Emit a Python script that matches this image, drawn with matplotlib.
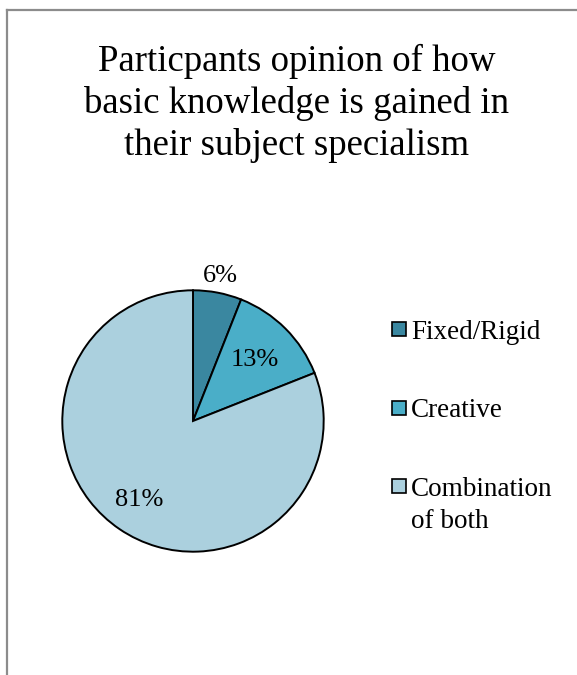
import matplotlib.pyplot as plt
import numpy as np
from matplotlib.lines import Line2D
from matplotlib.patches import Rectangle

categories = ["Fixed/Rigid", "Creative", "Combination\nof both"]
shares = [6, 13, 81]
colors = ["#3a87a0", "#4aaec8", "#abd0de"]
label_radius = [1.13, 0.665, 0.73]

title = "Particpants opinion of how\nbasic knowledge is gained in\ntheir subject specialism"

plt.rcParams['font.family'] = ['Liberation Serif', 'DejaVu Serif']

W, H = 577, 675
fig = plt.figure(figsize=(W / 100, H / 100), dpi=100)

# chart area frame: left and top edges only
fig.add_artist(Line2D([7 / W, 7 / W], [0, 1 - 10 / H], color="#8c8c8c", lw=1.6,
                      transform=fig.transFigure))
fig.add_artist(Line2D([7 / W, 1], [1 - 10 / H, 1 - 10 / H], color="#8c8c8c", lw=1.6,
                      transform=fig.transFigure))

fig.text(297 / W, 1 - 44 / H, title, ha="center", va="top", fontsize=26.5,
         linespacing=1.25)

cx, cy, r = 193, 421, 132
ax = fig.add_axes([(cx - r) / W, (H - cy - r) / H, 2 * r / W, 2 * r / H])
wedges, _ = ax.pie(shares, colors=colors, startangle=90, counterclock=False,
                   wedgeprops=dict(edgecolor="black", linewidth=1.4))
ax.set_xlim(-1.01, 1.01)
ax.set_ylim(-1.01, 1.01)

# percentage labels at each wedge's mid angle
start = 90.0
for val, dist in zip(shares, label_radius):
    sweep = val / sum(shares) * 360
    mid = np.deg2rad(start - sweep / 2)
    ax.text(dist * np.cos(mid), dist * np.sin(mid), f"{val}%", ha="center", va="center",
            fontsize=19)
    start -= sweep

# legend: square swatch next to first line of each label
sq = 14
for i, (name, col) in enumerate(zip(categories, colors)):
    yc = 329 + i * 78.5
    fig.add_artist(Rectangle((392 / W, (H - yc - sq / 2) / H), sq / W, sq / H,
                             facecolor=col, edgecolor="black", lw=1.2,
                             transform=fig.transFigure))
    fig.text(411 / W, 1 - (yc - 9) / H, name, ha="left", va="top", fontsize=19.5,
             linespacing=1.35)

fig.savefig("out.png", dpi=100)
